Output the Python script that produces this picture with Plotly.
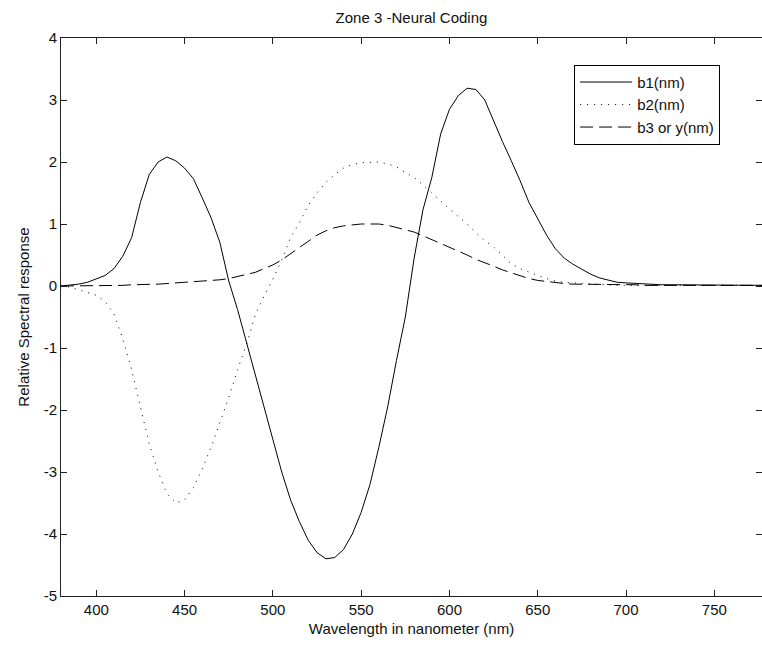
import plotly.graph_objects as go

wavelength = list(range(380, 785, 5))

b1 = [0.0, 0.01, 0.03, 0.06, 0.11, 0.17, 0.28, 0.48, 0.78, 1.35, 1.8, 2.0, 2.08, 2.02, 1.9,
      1.73, 1.42, 1.1, 0.7, 0.08, -0.38, -0.9, -1.45, -1.95, -2.5, -3.0, -3.45, -3.8, -4.1,
      -4.3, -4.4, -4.38, -4.25, -4.0, -3.65, -3.2, -2.6, -1.95, -1.2, -0.5, 0.45, 1.23, 1.75,
      2.45, 2.85, 3.07, 3.19, 3.17, 3.0, 2.65, 2.33, 2.02, 1.7, 1.35, 1.08, 0.82, 0.6, 0.45,
      0.35, 0.27, 0.19, 0.13, 0.09, 0.06, 0.05, 0.04, 0.03, 0.02, 0.02, 0.02, 0.02, 0.02,
      0.01, 0.02, 0.01, 0.01, 0.02, 0.01, 0.01, 0.01, 0.01]

b2 = [0.0, -0.02, -0.06, -0.1, -0.15, -0.25, -0.45, -0.85, -1.35, -1.95, -2.55, -3.0, -3.35,
      -3.5, -3.45, -3.25, -2.95, -2.6, -2.2, -1.8, -1.35, -0.95, -0.47, -0.16, 0.11, 0.42,
      0.78, 1.02, 1.3, 1.5, 1.67, 1.8, 1.9, 1.96, 1.99, 2.0, 2.0, 1.97, 1.92, 1.83, 1.75,
      1.63, 1.5, 1.36, 1.24, 1.12, 1.0, 0.86, 0.73, 0.63, 0.49, 0.36, 0.28, 0.22, 0.17, 0.12,
      0.08, 0.06, 0.05, 0.04, 0.03, 0.02, 0.01, 0.01, 0.01, 0.01, 0.01, 0.01, 0.01, 0.01,
      0.01, 0.01, 0.01, 0.01, 0.01, 0.01, 0.01, 0.01, 0.01, 0.01, 0.01]

b3 = [0.0, 0.0, 0.0, 0.01, 0.01, 0.01, 0.01, 0.01, 0.02, 0.02, 0.03, 0.03, 0.04, 0.05, 0.05,
      0.06, 0.07, 0.08, 0.1, 0.12, 0.15, 0.18, 0.22, 0.28, 0.34, 0.42, 0.52, 0.63, 0.72,
      0.82, 0.89, 0.94, 0.97, 0.99, 1.0, 1.0, 1.0, 0.98, 0.94, 0.9, 0.87, 0.81, 0.75, 0.69,
      0.63, 0.56, 0.5, 0.43, 0.38, 0.32, 0.26, 0.21, 0.16, 0.12, 0.09, 0.07, 0.05, 0.04,
      0.03, 0.03, 0.03, 0.02, 0.02, 0.02, 0.02, 0.02, 0.01, 0.01, 0.01, 0.01, 0.01, 0.01,
      0.01, 0.01, 0.01, 0.01, 0.01, 0.01, 0.01, 0.01, 0.01]

x_ticks = [400, 450, 500, 550, 600, 650, 700, 750]
y_ticks = [-5, -4, -3, -2, -1, 0, 1, 2, 3, 4]
y_tick_labels = ["-5", "-4", "-3", "-2", "-1", "0", "1", "2", "3", "4"]

names = ["b1(nm)", "b2(nm)", "b3 or y(nm)"]
FONT = "Liberation Sans, Arial, sans-serif"

fig = go.Figure()
fig.add_trace(go.Scatter(x=wavelength, y=b1, mode="lines", name=names[0],
                         line=dict(color="black", width=1, dash="solid")))
fig.add_trace(go.Scatter(x=wavelength, y=b2, mode="lines", name=names[1],
                         line=dict(color="black", width=1, dash="1px,6px")))
fig.add_trace(go.Scatter(x=wavelength, y=b3, mode="lines", name=names[2],
                         line=dict(color="black", width=1, dash="13px,6px")))

fig.update_layout(
    width=762, height=648,
    margin=dict(l=61, r=0, t=38, b=52),
    paper_bgcolor="white", plot_bgcolor="white",
    font=dict(family=FONT, size=15, color="#111"),
    title=dict(text="Zone 3 -Neural Coding", xref="paper", x=0.5, xanchor="center",
               y=1 - 18 / 648, yanchor="middle", font=dict(size=15, family=FONT)),
    showlegend=True,
    legend=dict(x=0.732, y=0.952, xanchor="left", yanchor="top",
                bgcolor="white", bordercolor="black", borderwidth=1,
                font=dict(size=15, family=FONT), itemwidth=52,
                tracegroupgap=0),
    xaxis=dict(range=[380, 777], tickvals=x_ticks, ticks="inside", ticklen=6,
               tickcolor="#222", showline=True, linecolor="#222", linewidth=1,
               mirror="ticks", showgrid=False, zeroline=False,
               tickfont=dict(size=15, family=FONT),
               title=dict(text="Wavelength in nanometer (nm)", standoff=6,
                          font=dict(size=15, family=FONT))),
    yaxis=dict(range=[-5, 4], tickvals=y_ticks, ticktext=y_tick_labels, ticks="inside",
               ticklen=6, tickcolor="#222", showline=True, linecolor="#222", linewidth=1,
               mirror="ticks", showgrid=False, zeroline=False,
               tickfont=dict(size=15, family=FONT),
               title=dict(text="Relative Spectral response", standoff=10,
                          font=dict(size=15, family=FONT))),
)

fig.write_html("out.html")
